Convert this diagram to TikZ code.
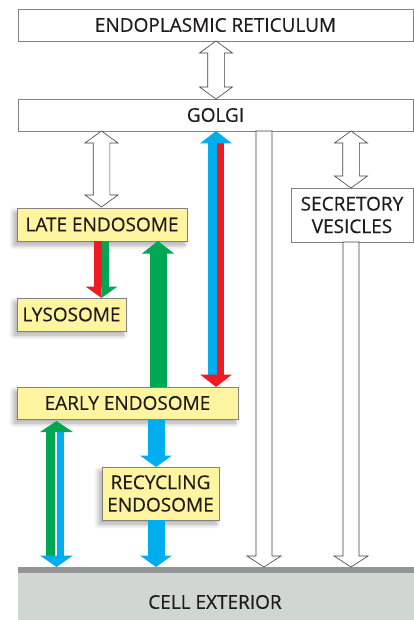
\documentclass[tikz,border=0pt]{standalone}
\usepackage{fontspec}
\setmainfont[FakeBold=0.4]{Open Sans}
\usetikzlibrary{calc,shadows.blur}
\definecolor{cblue}{RGB}{0,174,239}
\definecolor{cred}{RGB}{237,28,36}
\definecolor{cgreen}{RGB}{0,166,81}
\definecolor{cyel}{RGB}{255,244,160}
\definecolor{cext}{RGB}{208,215,211}
\definecolor{cextline}{RGB}{147,149,152}
\definecolor{ctext}{RGB}{30,27,28}
\definecolor{cborder}{RGB}{130,130,130}
\newcommand\openDbl[2]{%
  \draw[openarr] let \p1=(#1),\p2=(#2) in
    (\p1) -- (\x1+16.5pt,\y1-12pt) -- (\x1+8.3pt,\y1-12pt) -- (\x1+8.3pt,\y2+12pt)
    -- (\x1+16.5pt,\y2+12pt) -- (\p2) -- (\x1-16.5pt,\y2+12pt) -- (\x1-8.3pt,\y2+12pt)
    -- (\x1-8.3pt,\y1-12pt) -- (\x1-16.5pt,\y1-12pt) -- cycle;}
\newcommand\openDown[2]{%
  \draw[openarr] let \p1=(#1),\p2=(#2) in
    (\x1-8pt,\y1) -- (\x1+8pt,\y1) -- (\x1+8pt,\y2+11pt) -- (\x1+17pt,\y2+11pt)
    -- (\p2) -- (\x1-17pt,\y2+11pt) -- (\x1-8pt,\y2+11pt) -- cycle;}
\begin{document}
\begin{tikzpicture}[x=1pt,y=-1pt,
  every node/.style={text=ctext,font=\fontsize{19}{22.5}\selectfont,inner sep=0pt,outer sep=0pt,align=center},
  whitebox/.style={draw=cborder,line width=0.8pt,fill=white,anchor=north west},
  yelbox/.style={draw=cborder,line width=0.8pt,fill=cyel,anchor=north west,
    blur shadow={shadow xshift=-3pt,shadow yshift=-4pt,shadow blur steps=8,shadow opacity=35,shadow blur radius=5pt}},
  openarr/.style={draw=black!75,line width=0.6pt,fill=white,line join=miter}]
\useasboundingbox (0,0) rectangle (414,620);
% cell exterior
\node[fill=cext,anchor=north west,minimum width=396pt,minimum height=53pt] (ext) at (18,567) {};
\fill[cextline] (ext.north west) rectangle ($(ext.north east)+(0,6)$);
\node at (215,602) (extlabel) {CELL EXTERIOR};
% boxes
\node[whitebox,minimum width=395pt,minimum height=32pt] (er) at (18,9) {ENDOPLASMIC RETICULUM};
\node[whitebox,minimum width=395pt,minimum height=32pt] (golgi) at (18,99) {GOLGI};
\node[whitebox,minimum width=122pt,minimum height=54pt] (sec) at (291,188) {SECRETORY\\VESICLES};
% column coordinates
\coordinate (cA) at (101.5,0);
\coordinate (cB) at (216,0);
\coordinate (cC) at (158,0);
\coordinate (cD) at (56.5,0);
\coordinate (cE) at (156,0);
\coordinate (cF) at (264,0);
\coordinate (cG) at (351,0);
% open arrows
\openDbl{er.south -| cB}{golgi.north -| cB}
\openDbl{golgi.south -| cG}{sec.north -| cG}
\openDown{golgi.south -| cF}{ext.north -| cF}
\openDown{sec.south -| cG}{ext.north -| cG}
% yellow boxes
\node[yelbox,minimum width=170pt,minimum height=33pt] (late) at (17,208) {LATE ENDOSOME};
\node[yelbox,minimum width=109pt,minimum height=33pt] (lyso) at (17,298) {LYSOSOME};
\node[yelbox,minimum width=221pt,minimum height=32pt] (early) at (17,387) {EARLY ENDOSOME};
\node[yelbox,minimum width=117pt,minimum height=53pt] (recy) at (102,467) {RECYCLING\\ENDOSOME};
\openDbl{golgi.south -| cA}{$(late.north -| cA)+(0,-1)$}
% golgi <-> early (blue up, red down)
\fill[cblue] ($(golgi.south -| cB)+(-8,12)$) rectangle ($(early.north -| cB)+(1,-12)$);
\fill[cred] ($(golgi.south -| cB)+(1,12)$) rectangle ($(early.north -| cB)+(8,-12)$);
\fill[cblue] (golgi.south -| cB) -- ++(16,12.5) -- ++(-32,0) -- cycle;
\fill[cred] (early.north -| cB) -- ++(16,-12.5) -- ++(-32,0) -- cycle;
% late -> lysosome
\fill[cred] (late.south -| cA) ++(-7.5,0) rectangle ($(lyso.north -| cA)+(0,-11)$);
\fill[cgreen] (late.south -| cA) rectangle ($(lyso.north -| cA)+(7.5,-11)$);
\fill[cred] (lyso.north -| cA) -- ++(-16,-11.5) -- ++(16,0) -- cycle;
\fill[cgreen] (lyso.north -| cA) -- ++(16,-11.5) -- ++(-16,0) -- cycle;
% early -> late (green up)
\fill[cgreen] ($(late.south -| cC)+(-8.5,12)$) rectangle ($(early.north -| cC)+(8.5,0)$);
\fill[cgreen] (late.south -| cC) -- ++(16,12.5) -- ++(-32,0) -- cycle;
% early <-> exterior
\fill[cgreen] ($(early.south -| cD)+(-10.5,12)$) rectangle ($(ext.north -| cD)+(-1.5,-11)$);
\fill[cblue] ($(early.south -| cD)+(0.5,12)$) rectangle ($(ext.north -| cD)+(7.5,-11)$);
\fill[cgreen] ($(early.south -| cD)+(0,2)$) -- ++(16.5,11) -- ++(-33,0) -- cycle;
\fill[cblue] (ext.north -| cD) -- ++(16.5,-11.5) -- ++(-33,0) -- cycle;
% early -> recycling -> exterior
\fill[cblue] ($(early.south -| cE)+(-8.5,0)$) rectangle ($(recy.north -| cE)+(8.5,-11)$);
\fill[cblue] (recy.north -| cE) -- ++(16,-11.5) -- ++(-32,0) -- cycle;
\fill[cblue] ($(recy.south -| cE)+(-8.5,0)$) rectangle ($(ext.north -| cE)+(8.5,-11)$);
\fill[cblue] (ext.north -| cE) -- ++(16,-11.5) -- ++(-32,0) -- cycle;
\end{tikzpicture}
\end{document}
